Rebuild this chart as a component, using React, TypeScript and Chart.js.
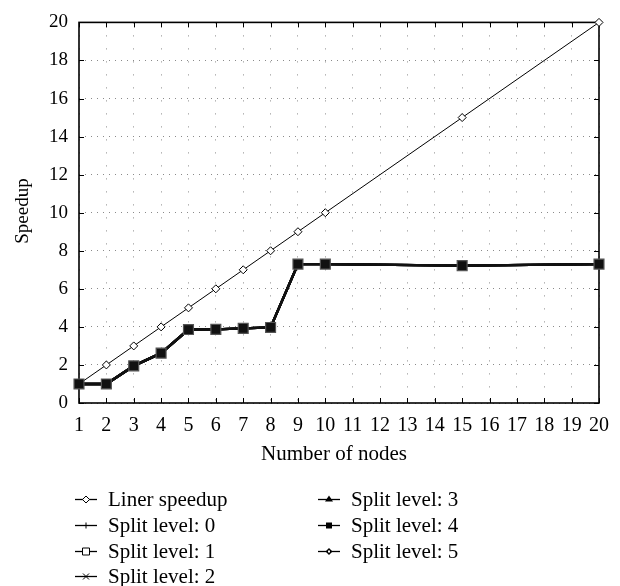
import { useEffect, useRef } from 'react';
import { Chart, registerables } from 'chart.js';

Chart.register(...registerables);

const nodes = [1, 2, 3, 4, 5, 6, 7, 8, 9, 10, 15, 20];
const linerSpeedup = [1, 2, 3, 4, 5, 6, 7, 8, 9, 10, 15, 20];
const splitLevel0 = [1.0, 1.0, 1.95, 2.62, 3.86, 3.87, 3.92, 3.97, 7.3, 7.3, 7.22, 7.3];
const splitLevel1 = [1.0, 1.0, 1.95, 2.62, 3.86, 3.87, 3.92, 3.97, 7.3, 7.3, 7.22, 7.3];
const splitLevel2 = [1.0, 1.0, 1.95, 2.62, 3.86, 3.87, 3.92, 3.97, 7.3, 7.3, 7.22, 7.3];
const splitLevel3 = [1.0, 1.0, 1.95, 2.62, 3.86, 3.87, 3.92, 3.97, 7.3, 7.3, 7.22, 7.3];
const splitLevel4 = [1.0, 1.0, 1.95, 2.62, 3.86, 3.87, 3.92, 3.97, 7.3, 7.3, 7.22, 7.3];
const splitLevel5 = [1.0, 1.0, 1.95, 2.62, 3.86, 3.87, 3.92, 3.97, 7.3, 7.3, 7.22, 7.3];
const seriesLabels = [
  'Liner speedup',
  'Split level: 0',
  'Split level: 1',
  'Split level: 2',
  'Split level: 3',
  'Split level: 4',
  'Split level: 5',
];
const xTitle = 'Number of nodes';
const yTitle = 'Speedup';

const FONT = '"Liberation Serif", "Times New Roman", serif';

type MarkerKind = 'diamondOpen' | 'plus' | 'squareOpen' | 'x' | 'triangle' | 'squareFilled' | 'diamondSmall';
const legendMarkers: MarkerKind[] = ['diamondOpen', 'plus', 'squareOpen', 'x', 'triangle', 'squareFilled', 'diamondSmall'];

function drawMarker(ctx: CanvasRenderingContext2D, kind: MarkerKind, x: number, y: number) {
  ctx.save();
  ctx.strokeStyle = '#000';
  ctx.fillStyle = '#000';
  ctx.lineWidth = 1;
  ctx.beginPath();
  switch (kind) {
    case 'diamondOpen':
      ctx.moveTo(x, y - 3.5); ctx.lineTo(x + 3.5, y); ctx.lineTo(x, y + 3.5); ctx.lineTo(x - 3.5, y); ctx.closePath();
      ctx.fillStyle = '#fff'; ctx.fill(); ctx.stroke();
      break;
    case 'plus':
      ctx.moveTo(x, y - 3); ctx.lineTo(x, y + 3); ctx.stroke();
      break;
    case 'squareOpen':
      ctx.rect(x - 3.5, y - 3.5, 7, 7); ctx.fillStyle = '#fff'; ctx.fill(); ctx.stroke();
      break;
    case 'x':
      ctx.moveTo(x - 3, y - 3); ctx.lineTo(x + 3, y + 3); ctx.moveTo(x + 3, y - 3); ctx.lineTo(x - 3, y + 3); ctx.stroke();
      break;
    case 'triangle':
      ctx.moveTo(x, y - 4); ctx.lineTo(x + 4, y + 2); ctx.lineTo(x - 4, y + 2); ctx.closePath(); ctx.fill();
      break;
    case 'squareFilled':
      ctx.rect(x - 3, y - 3, 6, 6); ctx.fill();
      break;
    case 'diamondSmall':
      ctx.moveTo(x, y - 3.5); ctx.lineTo(x + 3.5, y); ctx.lineTo(x, y + 3.5); ctx.lineTo(x - 3.5, y); ctx.closePath();
      ctx.fill();
      ctx.fillStyle = '#fff';
      ctx.fillRect(x - 1, y - 1, 2, 2);
      break;
  }
  ctx.restore();
}

export default function App() {
  const ref = useRef<HTMLCanvasElement>(null);

  useEffect(() => {
    if (!ref.current) return;

    const decor = {
      id: 'decor',
      beforeDatasetsDraw(chart: any) {
        const ctx: CanvasRenderingContext2D = chart.ctx;
        const { left, right, top, bottom } = chart.chartArea;
        const xs = chart.scales.x;
        const ys = chart.scales.y;
        ctx.save();
        // inward ticks
        ctx.strokeStyle = '#000';
        ctx.lineWidth = 1;
        ctx.beginPath();
        xs.ticks.forEach((t: any) => {
          const px = Math.round(xs.getPixelForValue(t.value)) + 0.5;
          ctx.moveTo(px, bottom); ctx.lineTo(px, bottom - 5);
          ctx.moveTo(px, top); ctx.lineTo(px, top + 5);
        });
        ys.ticks.forEach((t: any) => {
          const py = Math.round(ys.getPixelForValue(t.value)) + 0.5;
          ctx.moveTo(left, py); ctx.lineTo(left + 5, py);
          ctx.moveTo(right, py); ctx.lineTo(right - 5, py);
        });
        ctx.stroke();
        // frame
        ctx.lineWidth = 1.6;
        ctx.strokeRect(left, top, right - left, bottom - top);
        ctx.restore();
      },
      afterDraw(chart: any) {
        const ctx: CanvasRenderingContext2D = chart.ctx;
        ctx.save();
        // axis titles
        ctx.fillStyle = '#000';
        ctx.font = `21px ${FONT}`;
        ctx.textAlign = 'center';
        ctx.textBaseline = 'middle';
        ctx.fillText(xTitle, 334, 454);
        ctx.save();
        ctx.translate(23, 211);
        ctx.rotate(-Math.PI / 2);
        ctx.font = `19px ${FONT}`;
        ctx.fillText(yTitle, 0, 0);
        ctx.restore();

        // legend
        const colX = [75, 318];
        const rowY = [499, 525, 551, 576];
        ctx.font = `21px ${FONT}`;
        ctx.textAlign = 'left';
        seriesLabels.forEach((label, i) => {
          const col = i < 4 ? 0 : 1;
          const row = i < 4 ? i : i - 4;
          const x0 = colX[col];
          const y0 = rowY[row];
          ctx.strokeStyle = '#000';
          ctx.lineWidth = 1.3;
          ctx.beginPath();
          ctx.moveTo(x0, y0 + 0.5);
          ctx.lineTo(x0 + 22, y0 + 0.5);
          ctx.stroke();
          drawMarker(ctx, legendMarkers[i], x0 + 11, y0 + 0.5);
          ctx.fillStyle = '#000';
          ctx.fillText(label, x0 + 33, y0 + 1);
        });
        ctx.restore();
      },
    };

    const pts = (vals: number[]) => nodes.map((n, i) => ({ x: n, y: vals[i] }));
    const splitBase = {
      borderColor: '#111',
      borderWidth: 2.4,
      pointBorderColor: '#111',
      pointBackgroundColor: '#111',
      pointBorderWidth: 1,
      pointRadius: 4,
      tension: 0,
      clip: false,
    };

    const chart = new Chart(ref.current, {
      type: 'line',
      data: {
        datasets: [
          {
            label: seriesLabels[0],
            data: pts(linerSpeedup),
            borderColor: '#000',
            borderWidth: 1,
            pointStyle: 'rectRot',
            pointRadius: 4,
            pointBackgroundColor: '#fff',
            pointBorderColor: '#000',
            pointBorderWidth: 1,
            clip: false,
            order: 7,
          },
          { ...splitBase, label: seriesLabels[1], data: pts(splitLevel0), pointStyle: 'cross', order: 6 },
          {
            ...splitBase,
            label: seriesLabels[2],
            data: pts(splitLevel1),
            pointStyle: 'rect',
            pointRadius: 7,
            pointBackgroundColor: '#111',
            pointBorderColor: '#555',
            pointBorderWidth: 1.2,
            order: 1,
          },
          { ...splitBase, label: seriesLabels[3], data: pts(splitLevel2), pointStyle: 'crossRot', order: 5 },
          { ...splitBase, label: seriesLabels[4], data: pts(splitLevel3), pointStyle: 'triangle', order: 4 },
          { ...splitBase, label: seriesLabels[5], data: pts(splitLevel4), pointStyle: 'star', order: 3 },
          { ...splitBase, label: seriesLabels[6], data: pts(splitLevel5), pointStyle: 'rectRot', order: 2 },
        ],
      },
      options: {
        animation: false,
        responsive: false,
        maintainAspectRatio: false,
        layout: { padding: { top: 20, right: 20, left: 0, bottom: 0 } },
        plugins: {
          legend: { display: false },
          tooltip: { enabled: false },
        },
        scales: {
          x: {
            type: 'linear',
            min: 1,
            max: 20,
            afterFit: (s: any) => { s.height = 183; },
            ticks: {
              stepSize: 1,
              autoSkip: false,
              maxRotation: 0,
              padding: 11,
              color: '#000',
              font: { family: FONT, size: 20 },
            },
            grid: { drawTicks: false, color: '#8a8a8a', lineWidth: 1 },
            border: { display: false, dash: [1, 12] },
          },
          y: {
            type: 'linear',
            min: 0,
            max: 20,
            afterFit: (s: any) => { s.width = 79; },
            ticks: {
              stepSize: 2,
              padding: 11,
              color: '#000',
              font: { family: FONT, size: 19 },
            },
            grid: { drawTicks: false, color: '#8a8a8a', lineWidth: 1 },
            border: { display: false, dash: [1, 5] },
          },
        },
      },
      plugins: [decor],
    } as any);

    return () => chart.destroy();
  }, []);

  return (
    <div style={{ position: 'absolute', left: 0, top: 0, width: 620, height: 586, background: '#fff' }}>
      <canvas ref={ref} width={620} height={586} style={{ display: 'block' }} />
    </div>
  );
}
